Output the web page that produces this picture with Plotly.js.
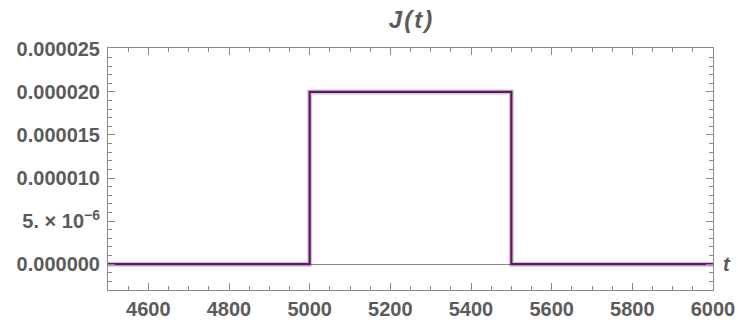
<!DOCTYPE html>
<html>
<head>
<meta charset="utf-8">
<script src="https://cdn.plot.ly/plotly-3.0.1.min.js"></script>
<style>html,body{margin:0;padding:0;background:#fff;}#chart{width:738px;height:324px;}</style>
</head>
<body>
<div id="chart"></div>
<script>
// Data: step pulse J(t)
const tValues = [4500, 5000, 5000, 5500, 5500, 6000];
const jValues = [0, 0, 0.00002, 0.00002, 0, 0];

// Tick labels
const xTickVals = [4600, 4800, 5000, 5200, 5400, 5600, 5800, 6000];
const xTickText = ['4600', '4800', '5000', '5200', '5400', '5600', '5800', '6000'];
const yTickVals = [0, 0.000005, 0.00001, 0.000015, 0.00002, 0.000025];
const yTickText = ['0.000000', '5. \u00d7 10<sup>\u22126</sup>', '0.000010', '0.000015', '0.000020', '0.000025'];

const labelColor = '#5b5b5b';
const frameColor = '#8a8a8a';
const tickFont = {family: 'Liberation Sans, Arial, sans-serif', size: 20, color: labelColor, weight: 'bold'};

const traces = [
  {x: tValues, y: jValues, type: 'scatter', mode: 'lines',
   line: {color: 'rgba(110,40,115,0.28)', width: 5}, hoverinfo: 'skip', showlegend: false},
  {x: tValues, y: jValues, type: 'scatter', mode: 'lines',
   line: {color: '#5e1762', width: 2.2}, showlegend: false}
];

const layout = {
  width: 738, height: 324,
  margin: {l: 108, r: 25, t: 48, b: 34},
  paper_bgcolor: '#fff', plot_bgcolor: '#fff',
  showlegend: false,
  title: {text: 'J\u200a(\u200at\u200a)', x: 0.5, xref: 'paper', xanchor: 'center', y: 0.94, yref: 'container', yanchor: 'middle',
          font: {family: 'Liberation Sans, Arial, sans-serif', size: 24, color: labelColor, style: 'italic', weight: 'bold'}},
  xaxis: {
    range: [4500, 6000], showgrid: false, zeroline: false,
    showline: true, linecolor: frameColor, linewidth: 1, mirror: 'ticks',
    ticks: 'inside', ticklen: 7, tickcolor: frameColor, tickwidth: 1,
    tickmode: 'array', tickvals: xTickVals, ticktext: xTickText,
    tickfont: tickFont, ticklabelstandoff: 1,
    minor: {tickmode: 'linear', tick0: 4500, dtick: 50, ticks: 'inside', ticklen: 4, tickcolor: frameColor, tickwidth: 1, showgrid: false}
  },
  yaxis: {
    range: [-0.000003, 0.0000251], showgrid: false,
    zeroline: true, zerolinecolor: '#8a8a8a', zerolinewidth: 1,
    showline: true, linecolor: frameColor, linewidth: 1, mirror: 'ticks',
    ticks: 'inside', ticklen: 7, tickcolor: frameColor, tickwidth: 1,
    tickmode: 'array', tickvals: yTickVals, ticktext: yTickText,
    tickfont: tickFont, ticklabelstandoff: 3,
    minor: {tickmode: 'linear', tick0: 0, dtick: 0.000001, ticks: 'inside', ticklen: 4, tickcolor: frameColor, tickwidth: 1, showgrid: false}
  },
  annotations: [
    {text: 't', xref: 'paper', x: 1, xanchor: 'left', xshift: 8, yref: 'y', y: 0, yanchor: 'middle', showarrow: false,
     font: {family: 'Liberation Sans, Arial, sans-serif', size: 20, color: labelColor, style: 'italic', weight: 'bold'}}
  ]
};

Plotly.newPlot('chart', traces, layout, {staticPlot: true, displayModeBar: false});
</script>
</body>
</html>
